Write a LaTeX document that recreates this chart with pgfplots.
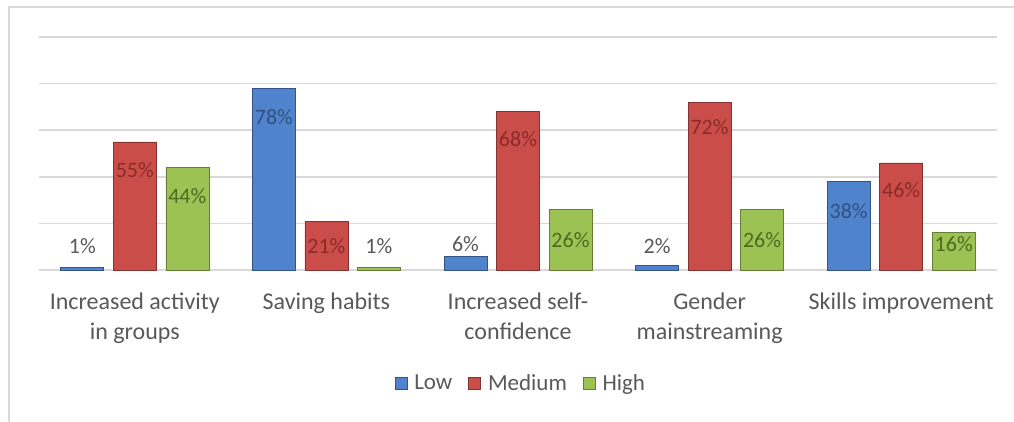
\documentclass[border=0pt]{standalone}
\usepackage{pgfplots}
\pgfplotsset{compat=1.18}
\usepackage{fontspec}
\setmainfont{Carlito}
\definecolor{blueF}{HTML}{4F83CC}
\definecolor{redF}{HTML}{CB4D4A}
\definecolor{greenF}{HTML}{9DC254}
\definecolor{lowlab}{HTML}{34507E}
\definecolor{medlab}{HTML}{8A2B29}
\definecolor{highlab}{HTML}{4E6A20}
\definecolor{graylab}{HTML}{595959}
\definecolor{gridc}{HTML}{D9D9D9}
\begin{document}
\begin{tikzpicture}
\useasboundingbox (0,0) rectangle (1014pt,421pt);
\fill[white] (0,0) rectangle (1014pt,421pt);
\draw[gridc, line width=1.5pt] (9pt,-2pt) -- (9pt,414pt) -- (1016pt,414pt);
\begin{axis}[
  at={(39pt,151pt)}, anchor=south west,
  scale only axis, width=958pt, height=233pt,
  xmin=-0.5, xmax=4.5, ymin=0, ymax=100,
  ybar, bar width=43pt,
  axis line style={draw=none},
  tick style={draw=none},
  ytick={0,20,...,100}, yticklabels={},
  ymajorgrids, grid style={gridc, line width=1.5pt},
  xtick={0,1,2,3,4},
  xticklabels={{Increased activity\\in groups},{Saving habits},{Increased self-\\confidence},{Gender\\mainstreaming},{Skills improvement}},
  xticklabel style={align=center, text=graylab, font=\fontsize{24}{30}\selectfont, yshift=-15pt},
  clip=false,
  legend style={at={(0.503,-0.485)}, anchor=center, draw=none, fill=none,
    legend columns=-1, font=\fontsize{23}{27}\selectfont, text=graylab,
    /tikz/every odd column/.append style={column sep=5pt},
    /tikz/every even column/.append style={column sep=14pt}},
  legend image code/.code={\path[#1] (0pt,-6pt) rectangle (12pt,6pt);},
  nodes near coords style={font=\fontsize{22}{26}\selectfont, anchor=center},
]
\addplot[bar shift=-52.5pt, draw=blueF!65!black, line width=0.6pt, fill=blueF]
  coordinates {(0,1) (1,78) (2,6) (3,2) (4,38)};
\addplot[bar shift=0pt, draw=redF!65!black, line width=0.6pt, fill=redF]
  coordinates {(0,55) (1,21) (2,68) (3,72) (4,46)};
\addplot[bar shift=52.5pt, draw=greenF!65!black, line width=0.6pt, fill=greenF]
  coordinates {(0,44) (1,1) (2,26) (3,26) (4,16)};
\legend{Low,Medium,High}
% data labels
\addplot[forget plot, bar shift=-52.5pt, draw=none, fill=none, nodes near coords, point meta=explicit symbolic, every node near coord/.append style={text=lowlab}]
  coordinates {(1,65.7) [78\%] (4,25.3) [38\%]};
\addplot[forget plot, bar shift=-52.5pt, draw=none, fill=none, nodes near coords, point meta=explicit symbolic, every node near coord/.append style={text=graylab}]
  coordinates {(0,10.3) [1\%] (2,11.2) [6\%] (3,10.3) [2\%]};
\addplot[forget plot, bar shift=0pt, draw=none, fill=none, nodes near coords, point meta=explicit symbolic, every node near coord/.append style={text=medlab}]
  coordinates {(0,42.9) [55\%] (1,10.3) [21\%] (2,56.2) [68\%] (3,61.2) [72\%] (4,34.3) [46\%]};
\addplot[forget plot, bar shift=52.5pt, draw=none, fill=none, nodes near coords, point meta=explicit symbolic, every node near coord/.append style={text=highlab}]
  coordinates {(0,31.8) [44\%] (2,12.9) [26\%] (3,12.9) [26\%] (4,11.2) [16\%]};
\addplot[forget plot, bar shift=52.5pt, draw=none, fill=none, nodes near coords, point meta=explicit symbolic, every node near coord/.append style={text=graylab}]
  coordinates {(1,10.3) [1\%]};
\end{axis}
\end{tikzpicture}
\end{document}
